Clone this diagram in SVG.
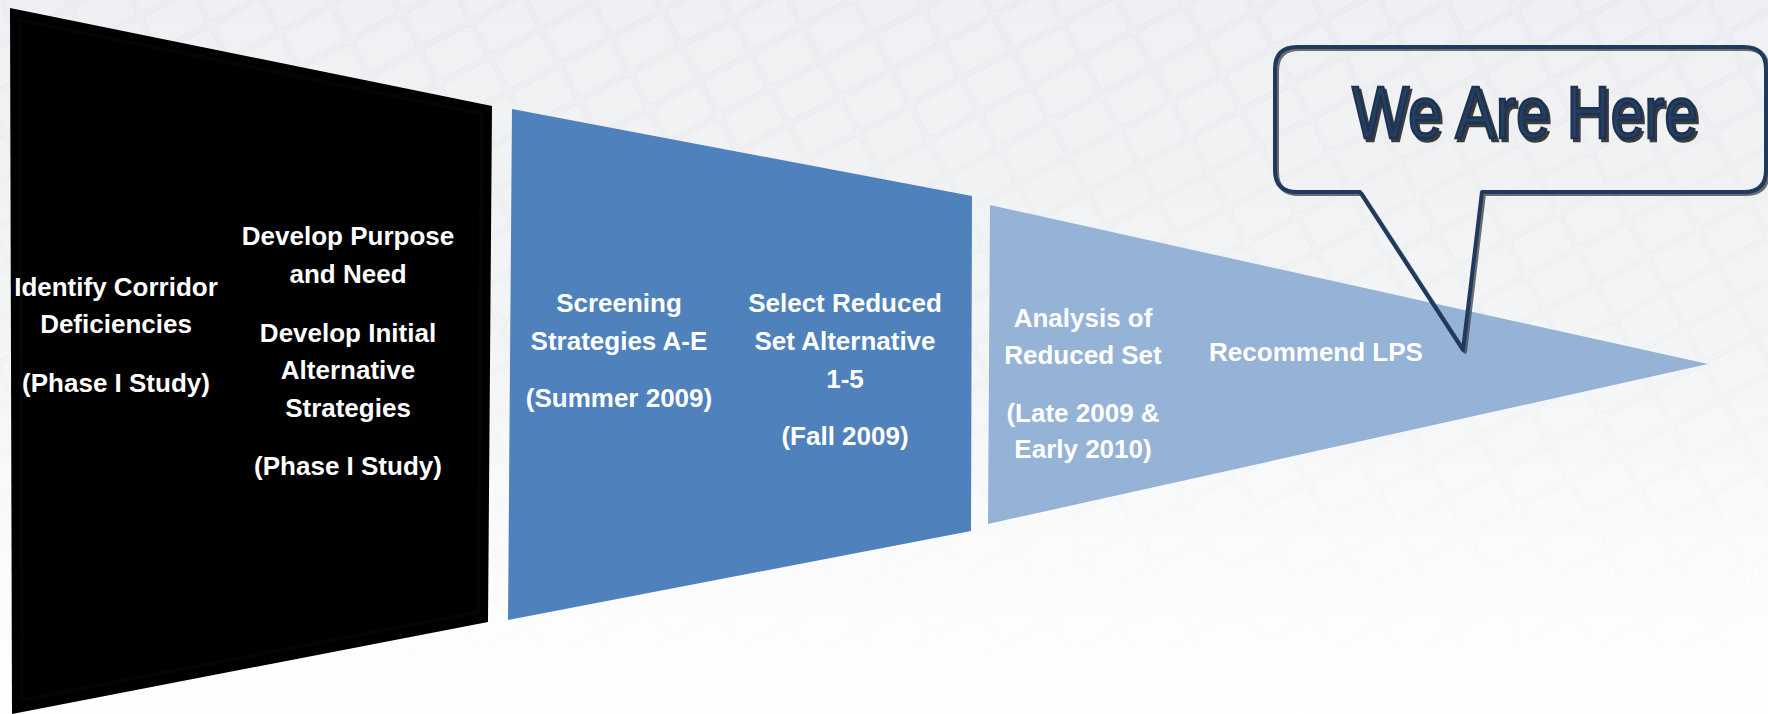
<svg xmlns="http://www.w3.org/2000/svg" width="1768" height="714" viewBox="0 0 1768 714">
  <defs>
    <style>
      .lbl { font-family: "Liberation Sans", Arial, sans-serif; font-weight: bold; font-size: 26px; fill: #ffffff; text-anchor: middle; }
      .here { font-family: "Liberation Sans", Arial, sans-serif; font-weight: normal; font-size: 74px; text-anchor: middle; }
      .bubble { fill: none; stroke-width: 4; stroke-linejoin: round; }
    </style>
    <linearGradient id="bgFade" x1="0" y1="0" x2="0" y2="1">
      <stop offset="0" stop-color="#eceef1"/>
      <stop offset="0.55" stop-color="#f1f2f4"/>
      <stop offset="1" stop-color="#fbfbfb"/>
    </linearGradient>
    <linearGradient id="whiteWash" x1="0" y1="0" x2="0" y2="1">
      <stop offset="0" stop-color="#ffffff" stop-opacity="0"/>
      <stop offset="0.5" stop-color="#ffffff" stop-opacity="0.2"/>
      <stop offset="1" stop-color="#ffffff" stop-opacity="0.9"/>
    </linearGradient>
    <!-- faint tiled backdrop -->
    <pattern id="tiles" width="58" height="40" patternUnits="userSpaceOnUse" patternTransform="rotate(-28)">
      <rect x="2" y="2" width="54" height="36" rx="5" fill="#f3f4f6" stroke="#e3e5e9" stroke-width="2.5"/>
    </pattern>
  </defs>

  <!-- backdrop -->
  <rect width="1768" height="714" fill="url(#bgFade)"/>
  <rect width="1768" height="714" fill="url(#tiles)" opacity="0.3"/>
  <rect width="1768" height="714" fill="url(#whiteWash)"/>

  <g id="connectors"/>

  <!-- stage 1: black funnel section -->
  <g id="stage-phase1">
    <polygon points="10,8 492,106 488,622 12,714" fill="#000000"/>
    <polygon points="20,20 482,114 478,612 22,700" fill="none" stroke="#0a0a0a" stroke-width="4" opacity="0.5"/>
    <text class="lbl" x="116" y="296">Identify Corridor</text>
    <text class="lbl" x="116" y="333">Deficiencies</text>
    <text class="lbl" x="116" y="392">(Phase I Study)</text>
    <text class="lbl" x="348" y="245">Develop Purpose</text>
    <text class="lbl" x="348" y="282.5">and Need</text>
    <text class="lbl" x="348" y="341.5">Develop Initial</text>
    <text class="lbl" x="348" y="379">Alternative</text>
    <text class="lbl" x="348" y="416.5">Strategies</text>
    <text class="lbl" x="348" y="475">(Phase I Study)</text>
  </g>

  <!-- stage 2: blue funnel section -->
  <g id="stage-screening">
    <polygon points="512,109 972,196 971,531 508,620" fill="#4f81bd"/>
    <text class="lbl" x="619" y="312">Screening</text>
    <text class="lbl" x="619" y="350">Strategies A-E</text>
    <text class="lbl" x="619" y="407">(Summer 2009)</text>
    <text class="lbl" x="845" y="312">Select Reduced</text>
    <text class="lbl" x="845" y="350">Set Alternative</text>
    <text class="lbl" x="845" y="388">1-5</text>
    <text class="lbl" x="845" y="445">(Fall 2009)</text>
  </g>

  <!-- stage 3: light blue funnel tip -->
  <g id="stage-analysis">
    <polygon points="990,205 1708,364 988,524" fill="#95b3d7"/>
    <text class="lbl" x="1083" y="327">Analysis of</text>
    <text class="lbl" x="1083" y="364">Reduced Set</text>
    <text class="lbl" x="1083" y="422">(Late 2009 &amp;</text>
    <text class="lbl" x="1083" y="458">Early 2010)</text>
    <text class="lbl" x="1316" y="361">Recommend LPS</text>
  </g>

  <!-- speech bubble -->
  <g id="callout">
    <path class="bubble" stroke="#4a4a4a" opacity="0.8" transform="translate(2,2)"
          d="M1297,47 H1744 Q1766,47 1766,69 V170 Q1766,192 1744,192 H1482 L1463,350 L1360,192 H1297 Q1275,192 1275,170 V69 Q1275,47 1297,47 Z"/>
    <path class="bubble" stroke="#1f3a60"
          d="M1297,47 H1744 Q1766,47 1766,69 V170 Q1766,192 1744,192 H1482 L1463,350 L1360,192 H1297 Q1275,192 1275,170 V69 Q1275,47 1297,47 Z"/>
    <g transform="translate(1525,138) scale(0.82,1)">
      <text class="here" x="3" y="3" fill="#3c3c3c" stroke="#3c3c3c" stroke-width="2.5">We Are Here</text>
      <text class="here" x="0" y="0" fill="#243f60" stroke="#1c3252" stroke-width="2.5">We Are Here</text>
    </g>
  </g>
</svg>
